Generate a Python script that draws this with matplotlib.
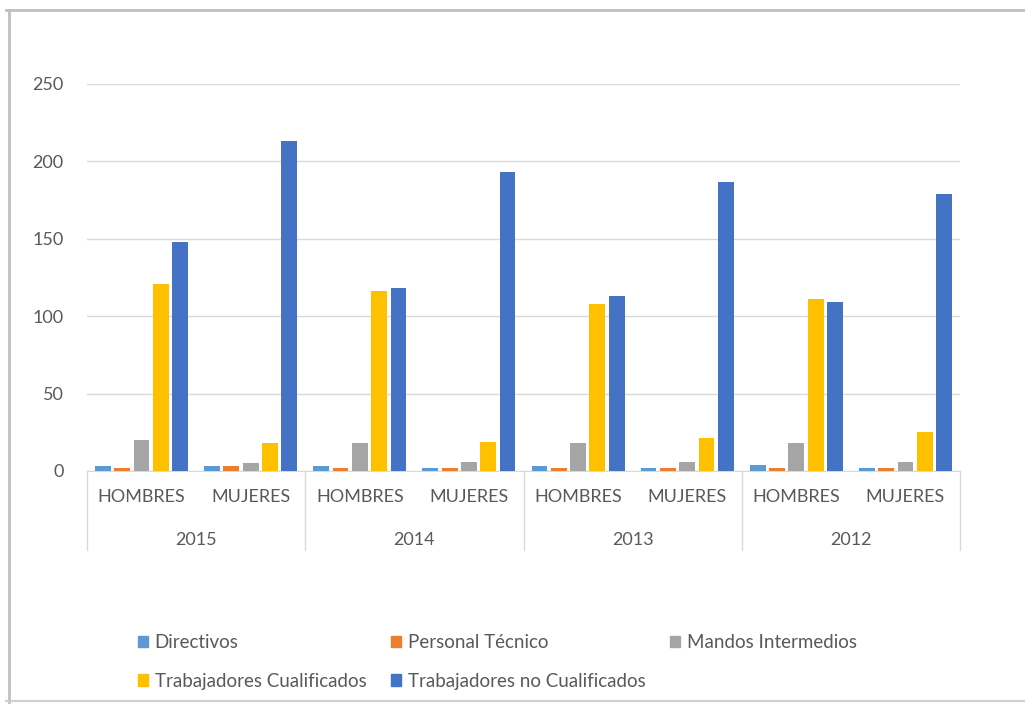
import matplotlib.pyplot as plt
from matplotlib.lines import Line2D
from matplotlib.patches import Patch
import numpy as np

years = ['2015', '2014', '2013', '2012']
sexes = ['HOMBRES', 'MUJERES']
series = ['Directivos', 'Personal Técnico', 'Mandos Intermedios',
          'Trabajadores Cualificados', 'Trabajadores no Cualificados']
colors = ['#5B9BD5', '#ED7D31', '#A5A5A5', '#FFC000', '#4472C4']

# values per category: 2015 H, 2015 M, 2014 H, 2014 M, 2013 H, 2013 M, 2012 H, 2012 M
directivos = [3, 3, 3, 2, 3, 2, 4, 2]
personal_tecnico = [2, 3, 2, 2, 2, 2, 2, 2]
mandos = [20, 5, 18, 6, 18, 6, 18, 6]
cualificados = [121, 18, 116, 19, 108, 21, 111, 25]
no_cualificados = [148, 213, 118, 193, 113, 187, 109, 179]
values = [directivos, personal_tecnico, mandos, cualificados, no_cualificados]

plt.rcParams['font.family'] = ['Lato', 'DejaVu Sans']
txt = '#595959'

fig = plt.figure(figsize=(10.25, 7.04), dpi=100)
ax = fig.add_axes([0.0849, 0.331, 0.8517, 0.5497])

x = np.arange(len(directivos))
step = 0.177
for j, (name, vals) in enumerate(zip(series, values)):
    ax.bar(x + (j - 2) * step, vals, width=0.145, color=colors[j], label=name, zorder=3)

ax.set_xlim(-0.5, len(x) - 0.5)
ax.set_ylim(0, 250)
ax.set_yticks(range(0, 251, 50))
ax.yaxis.grid(True, color='#D9D9D9', linewidth=1, zorder=0)
for s in ['top', 'right', 'left']:
    ax.spines[s].set_visible(False)
ax.spines['bottom'].set_color('#D9D9D9')
ax.tick_params(axis='y', length=0, labelsize=13, labelcolor=txt, pad=17)
ax.tick_params(axis='x', length=0, labelbottom=False)

# two-level category axis
trans = ax.get_xaxis_transform()
for i in x:
    ax.text(i, -0.068, sexes[i % 2], transform=trans, ha='center', va='center',
            fontsize=13, color=txt)
for k, yr in enumerate(years):
    ax.text(2 * k + 0.5, -0.178, yr, transform=trans, ha='center', va='center',
            fontsize=13, color=txt)
for b in np.arange(-0.5, len(x), 2):
    ax.plot([b, b], [0, -0.205], transform=trans, color='#D9D9D9', lw=1,
            clip_on=False)

handles = [Patch(color=c) for c in colors]
order = [0, 3, 1, 4, 2]
fig.legend([handles[i] for i in order], [series[i] for i in order],
           loc='center left', bbox_to_anchor=(0.118, 0.060), ncol=3,
           frameon=False, fontsize=13.5, labelcolor=txt,
           handlelength=0.55, handleheight=0.55, handletextpad=0.35,
           columnspacing=1.3, labelspacing=1.15)

# outer picture frame
fig.add_artist(Line2D([0.006, 1.0], [0.986, 0.986], color='#BFBFBF', lw=2))
fig.add_artist(Line2D([0.009, 0.009], [0.003, 0.986], color='#BFBFBF', lw=2))
fig.add_artist(Line2D([0.006, 1.0], [0.004, 0.004], color='#D0D0D0', lw=1.5))

fig.savefig('out.png', dpi=100)
